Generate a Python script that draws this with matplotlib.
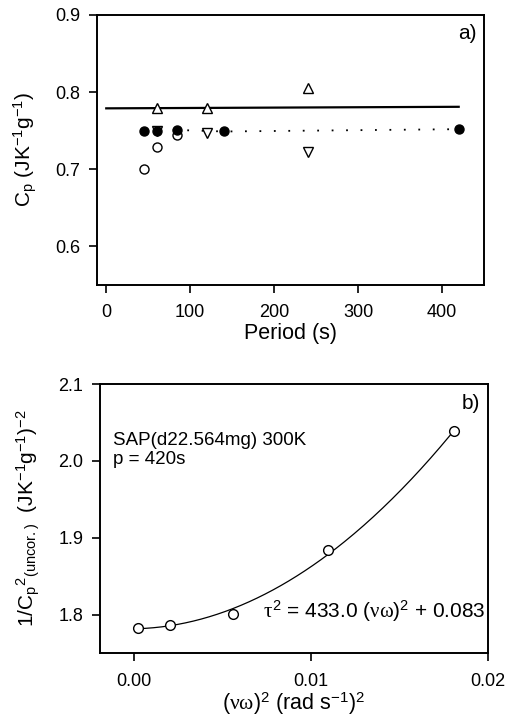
import numpy as np
import matplotlib
matplotlib.use("Agg")
import matplotlib.pyplot as plt

plt.rcParams['font.family'] = ['Liberation Sans', 'DejaVu Sans']
plt.rcParams['mathtext.fontset'] = 'custom'
plt.rcParams['mathtext.rm'] = 'Liberation Sans'
plt.rcParams['mathtext.it'] = 'Liberation Serif'

# panel a) data
period_filled = [45, 60, 84, 140, 420]
cp_filled = [0.750, 0.749, 0.751, 0.749, 0.752]
period_open = [45, 60, 84]
cp_open = [0.701, 0.729, 0.745]
period_up = [60, 120, 240]
cp_up = [0.779, 0.779, 0.806]
period_down = [60, 120, 240]
cp_down = [0.749, 0.747, 0.722]
line_period = [0, 420]
line_cp = [0.779, 0.781]

# panel b) data
nw2 = [0.000224, 0.00203, 0.00559, 0.01097, 0.01811]
inv_cp2 = [1.7835, 1.787, 1.801, 1.884, 2.0387]

fig = plt.figure(figsize=(5.09, 7.21), dpi=100)

# 第一張子圖表 a)
ax = fig.add_axes([0.1906, 0.6047, 0.760, 0.3745])
ax.plot(line_period, line_cp, color='k', lw=1.6, zorder=2)
ax.plot(period_open, cp_open, 'o', mfc='white', mec='k', ms=6.5, mew=1.0, zorder=3)
ax.plot(period_up, cp_up, '^', mfc='white', mec='k', ms=6.5, mew=1.0, zorder=3)
ax.plot(period_down, cp_down, 'v', mfc='white', mec='k', ms=6.5, mew=1.0, zorder=3)
ax.plot(period_filled, cp_filled, 'o', color='k', ms=6.5, ls=(0, (1, 7)), lw=1.3, zorder=4)
ax.set_xlim(-11, 450)
ax.set_ylim(0.55, 0.9)
ax.set_xticks([0, 100, 200, 300, 400])
ax.set_yticks([0.6, 0.7, 0.8, 0.9])
ax.set_xlabel('Period (s)', fontsize=15.5, va='top')
ax.xaxis.set_label_coords(0.5, -0.14)
ax.set_ylabel(r'C$_\mathrm{p}$ (JK$^\mathrm{-1}$g$^\mathrm{-1}$)', fontsize=15)
ax.yaxis.set_label_coords(-0.15, 0.5)
ax.text(0.982, 0.933, 'a)', transform=ax.transAxes, ha='right', va='center', fontsize=15)

# 第二張子圖表 b)
bx = fig.add_axes([0.1965, 0.0939, 0.762, 0.3735])
coef = np.polyfit(nw2, inv_cp2, 2)
xs = np.linspace(nw2[0], nw2[-1], 200)
bx.plot(xs, np.polyval(coef, xs), color='k', lw=0.9, zorder=2)
bx.plot(nw2, inv_cp2, 'o', mfc='white', mec='k', ms=7, mew=1.0, zorder=3)
bx.set_xlim(-0.0019, 0.02)
bx.set_ylim(1.75, 2.1)
bx.set_xticks([0.0, 0.01, 0.02])
bx.set_xticklabels(['0.00', '0.01', '0.02'])
bx.set_yticks([1.8, 1.9, 2.0, 2.1])
bx.set_xlabel(r'($\nu\omega$)$^\mathrm{2}$ (rad s$^\mathrm{-1}$)$^\mathrm{2}$', fontsize=15.5, va='top')
bx.xaxis.set_label_coords(0.5, -0.14)
bx.set_ylabel(r'1/C$_\mathrm{p}$$^\mathrm{2}$$_\mathrm{(uncor.)}$  (JK$^\mathrm{-1}$g$^\mathrm{-1}$)$^\mathrm{-2}$',
              fontsize=15)
bx.yaxis.set_label_coords(-0.15, 0.5)
bx.text(0.98, 0.928, 'b)', transform=bx.transAxes, ha='right', va='center', fontsize=15)
bx.text(0.034, 0.755, 'SAP(d22.564mg) 300K\np = 420s', transform=bx.transAxes,
        ha='left', va='center', fontsize=13.5, linespacing=1.1)
bx.text(0.995, 0.155, r'$\tau^\mathrm{2}$ = 433.0 ($\nu\omega$)$^\mathrm{2}$ + 0.083',
        transform=bx.transAxes, ha='right', va='center', fontsize=15)

for a in (ax, bx):
    for s in a.spines.values():
        s.set_linewidth(1.4)
    a.tick_params(direction='out', length=6, width=1.2, labelsize=13)
    a.tick_params(axis='x', pad=8)
    a.tick_params(axis='y', pad=6)

plt.savefig('out.png', dpi=100)
